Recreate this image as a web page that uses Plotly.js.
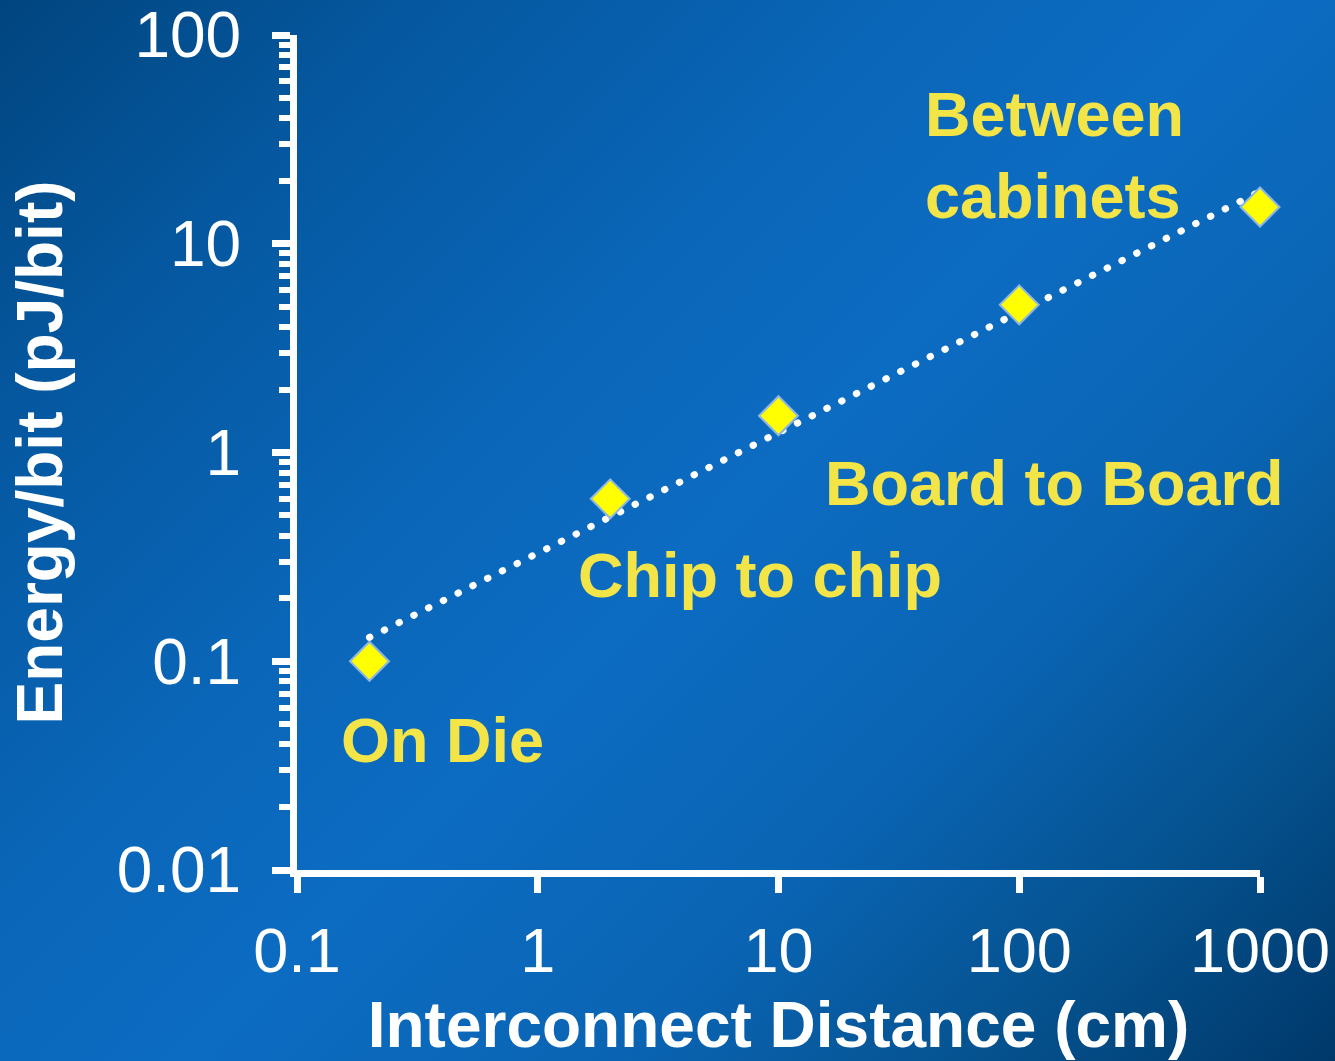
<!DOCTYPE html>
<html>
<head>
<meta charset="utf-8">
<script src="https://cdn.plot.ly/plotly-3.0.1.min.js"></script>
<style>
  html, body { margin: 0; padding: 0; }
  body {
    width: 1335px; height: 1061px; overflow: hidden;
    background: linear-gradient(135deg, #01457f 0%, #0558a0 18%, #0a66b8 38%, #0c6cc2 52%, #0a64b3 70%, #05528f 85%, #00386a 100%);
  }
  #chart { width: 1335px; height: 1061px; }
  .scatterlayer .js-line { stroke-linecap: round !important; }
</style>
</head>
<body>
<div id="chart"></div>
<script>
// Data
const distances = [0.2, 2, 10, 100, 1000];          // cm
const energies  = [0.1, 0.6, 1.5, 5.1, 15];          // pJ/bit
const trendX = [0.2, 1000];
const trendY = [0.13, 17.8];
const labels = ['On Die', 'Chip to chip', 'Board to Board', 'Between<br>cabinets'];
const xTickVals = [0.1, 1, 10, 100, 1000];
const xTickText = ['0.1', '1', '10', '100', '1000'];
const yTickVals = [0.01, 0.1, 1, 10, 100];
const yTickText = ['0.01', '0.1', '1', '10', '100'];

const yMinor = [];
for (let d = -2; d < 2; d++) {
  for (let m = 2; m <= 9; m++) yMinor.push(m * Math.pow(10, d));
}

const FONT = '"Liberation Sans", Arial, sans-serif';
const YELLOW = '#f3e447';

const traces = [
  {
    x: trendX, y: trendY, type: 'scatter', mode: 'lines',
    line: { color: 'white', width: 7, dash: '0.5px,16px' },
    hoverinfo: 'skip', showlegend: false, cliponaxis: false
  },
  {
    x: distances, y: energies, type: 'scatter', mode: 'markers',
    marker: { symbol: 'diamond', size: 30, color: '#ffff00', line: { color: '#8db6e2', width: 2 } },
    showlegend: false, cliponaxis: false
  }
];

const labelPos = [
  { x: 0.044, y: 0.156 },
  { x: 0.290, y: 0.353 },
  { x: 0.546, y: 0.463 },
  { x: 0.650, y: 0.856 }
];

const annotations = labels.map((t, i) => ({
  text: t, xref: 'paper', yref: 'paper',
  x: labelPos[i].x, y: labelPos[i].y,
  xanchor: 'left', yanchor: 'middle', align: 'left',
  showarrow: false,
  font: { family: FONT, size: 63, color: YELLOW, weight: 'bold' }
}));

const layout = {
  width: 1335, height: 1061,
  paper_bgcolor: 'rgba(0,0,0,0)', plot_bgcolor: 'rgba(0,0,0,0)',
  margin: { l: 297, r: 75, t: 35, b: 191 },
  font: { family: FONT, color: 'white' },
  showlegend: false,
  xaxis: {
    type: 'log', range: [-1, 3],
    tickmode: 'array', tickvals: xTickVals, ticktext: xTickText,
    ticks: 'outside', ticklen: 16, tickwidth: 7, tickcolor: 'white',
    showline: true, linecolor: 'white', linewidth: 7,
    showgrid: false, zeroline: false,
    ticklabelstandoff: 3, ticklabeloverflow: 'allow',
    tickfont: { family: FONT, size: 63, color: 'white' },
    title: { text: 'Interconnect Distance (cm)', font: { family: FONT, size: 64, color: 'white', weight: 'bold' }, standoff: 24 }
  },
  yaxis: {
    type: 'log', range: [-2, 2],
    tickmode: 'array', tickvals: yTickVals, ticktext: yTickText,
    ticks: 'outside', ticklen: 18, tickwidth: 7, tickcolor: 'white',
    minor: { tickmode: 'array', tickvals: yMinor, ticks: 'outside', ticklen: 11, tickwidth: 6, tickcolor: 'white', showgrid: false },
    showline: true, linecolor: 'white', linewidth: 7,
    showgrid: false, zeroline: false,
    ticklabelstandoff: 18, ticklabeloverflow: 'allow',
    tickfont: { family: FONT, size: 64, color: 'white' },
    title: { text: 'Energy/bit (pJ/bit)', font: { family: FONT, size: 64, color: 'white', weight: 'bold' }, standoff: 36 }
  },
  annotations: annotations
};

Plotly.newPlot('chart', traces, layout, { displayModeBar: false, staticPlot: true });
</script>
</body>
</html>
